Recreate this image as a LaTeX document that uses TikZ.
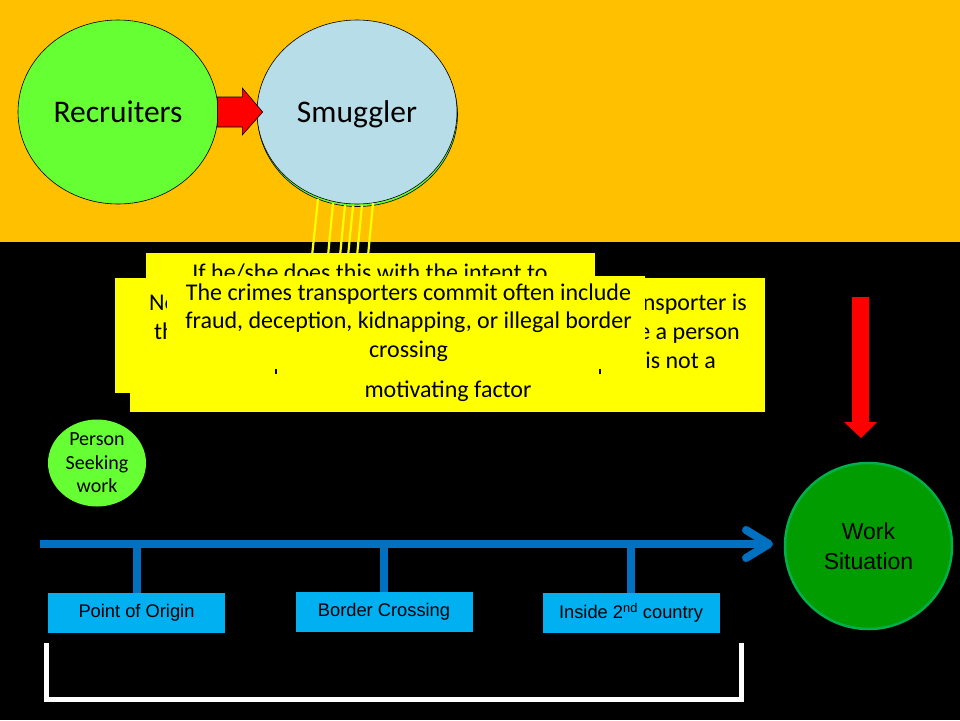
\documentclass[tikz,border=0pt]{standalone}
\usepackage{fontspec}
\setmainfont{Carlito}
\newfontfamily\arialf{Liberation Sans}
\usetikzlibrary{shapes.geometric,calc}
\definecolor{orangebg}{HTML}{FFC000}
\definecolor{lime}{HTML}{66FF33}
\definecolor{smugblue}{HTML}{B7DEE8}
\definecolor{ybox}{HTML}{FFFF00}
\definecolor{tlblue}{HTML}{0070C0}
\definecolor{cyanbox}{HTML}{00B0F0}
\definecolor{workgreen}{HTML}{009C00}
\definecolor{workedge}{HTML}{00B04A}
\tikzset{
  bubble/.style={ellipse, draw=black, line width=0.6pt, inner sep=0pt,
    minimum width=200pt, minimum height=184pt,
    font=\fontsize{31.5}{37}\selectfont, text height=22pt, text depth=2pt},
  blockarrow/.style={fill=red, draw=black, line width=0.6pt, line join=miter},
  downarrow/.style={fill=red, draw=none},
  beam/.style={draw=ybox, line width=2.2pt},
  yrect/.style={rectangle, fill=ybox, draw=none, inner sep=0pt, anchor=north west},
  ytext/.style={anchor=base, inner sep=0pt, font=\fontsize{24}{29}\selectfont},
  ytextw/.style={ytext, anchor=base west},
  ytexte/.style={ytext, anchor=base east},
  ctext/.style={anchor=base, inner sep=0pt, font=\fontsize{24}{28.5}\selectfont},
  timeline/.style={draw=tlblue, line width=8pt},
  tickline/.style={draw=tlblue, line width=8pt},
  stagebox/.style={rectangle, fill=cyanbox, minimum width=177pt, minimum height=40pt,
    inner sep=0pt, font=\arialf\fontsize{18.3}{21}\selectfont},
  bracketline/.style={draw=white, line width=5pt, line join=miter},
}
\begin{document}
\begin{tikzpicture}[x=1pt,y=-1pt]
\useasboundingbox (0,0) rectangle (960,720);
\fill[orangebg] (0,0) rectangle (960,242);
\fill[black] (0,242) rectangle (960,720);

% top bubbles
\node[bubble, fill=lime] (smugback) at (357.5,114.5) {};
\node[bubble, fill=smugblue] (smug) at (357,112) {Smuggler};
\node[bubble, fill=lime] (rec) at (118,112) {Recruiters};
\draw[blockarrow] ($(rec.east)+(-1,-15)$) -- ($(rec.east)+(24,-15)$) -- ($(rec.east)+(24,-24)$)
  -- ($(smug.west)+(6,0)$) -- ($(rec.east)+(24,23)$) -- ($(rec.east)+(24,15)$)
  -- ($(rec.east)+(-1,15)$) -- cycle;

% yellow beams
\draw[beam] (318,199) -- (312,256);
\draw[beam] (333,203) -- (328,256);
\draw[beam] (345,205) -- (340,256);
\draw[beam] (353,206) -- (348,256);
\draw[beam] (362,205) -- (357,256);
\draw[beam] (373,203) -- (368,256);

% stacked yellow boxes
\node[yrect, minimum width=449pt, minimum height=47pt] (boxA) at (146,253) {};
\node[ytext] (intent) at (370,280.5) {If he/she does this with the intent to};
\node[yrect, minimum width=647pt, minimum height=115pt] (boxB) at (115,278) {};
\node[yrect, minimum width=635pt, minimum height=134pt] (boxC) at (130,278) {};
\node[ytextw] (fragNo) at (149,310) {No};
\node[ytextw] (fragTh) at (154,339) {th};
\node[ytexte] (fragNs) at (747,310) {nsporter is};
\node[ytexte] (fragPe) at (740,339) {e a person};
\node[ytexte] (fragNot) at (716,368) {is not a};
\fill[black] (275,368) rectangle (277,374);
\fill[black] (599,368) rectangle (601,374);
\node[ytext] (motiv) at (448,397) {motivating factor};
\node[yrect, minimum width=478pt, minimum height=93pt] (boxD) at (167,276) {};
\node[ctext] (crime1) at (408.5,300) {The crimes transporters commit often include};
\node[ctext] (crime2) at (408.5,328.5) {fraud, deception, kidnapping, or illegal border};
\node[ctext] (crime3) at (408.5,357) {crossing};

% red down arrow
\fill[downarrow] (852,297) -- (869,297) -- (869,422) -- (877,422) -- (861,438) -- (844,422) -- (852,422) -- cycle;

% person and work situation
\node[ellipse, fill=lime, draw=none, minimum width=98pt, minimum height=87pt, inner sep=0pt,
  align=center, font=\fontsize{20}{23.5}\selectfont] (person) at (97,463) {Person\\Seeking\\work};
\node[ellipse, fill=workgreen, draw=workedge, line width=2.5pt, minimum width=167pt, minimum height=166pt,
  inner sep=0pt, align=center, font=\arialf\fontsize{23}{30}\selectfont] (work) at (868.5,546) {Work\\Situation};

% timeline
\coordinate (tlstart) at (40,544);
\coordinate (tlend) at (769,544);
\coordinate (chevup) at (746,530);
\coordinate (chevdn) at (746,558);
\draw[timeline] (tlstart) -- (tlend);
\draw[timeline, line cap=round, line join=round] (chevup) -- (tlend) -- (chevdn);

\node[stagebox] (po) at (136.5,613) {Point of Origin};
\node[stagebox] (bc) at (384,612) {Border Crossing};
\node[stagebox] (in2) at (631,613) {Inside 2\textsuperscript{nd} country};
\draw[tickline] (po.north) -- (po.north |- tlstart);
\draw[tickline] (bc.north) -- (bc.north |- tlstart);
\draw[tickline] (in2.north) -- (in2.north |- tlstart);

% bracket
\draw[bracketline] (46,643) -- (46,699.5) -- (741.5,699.5) -- (741.5,643);
\end{tikzpicture}
\end{document}
